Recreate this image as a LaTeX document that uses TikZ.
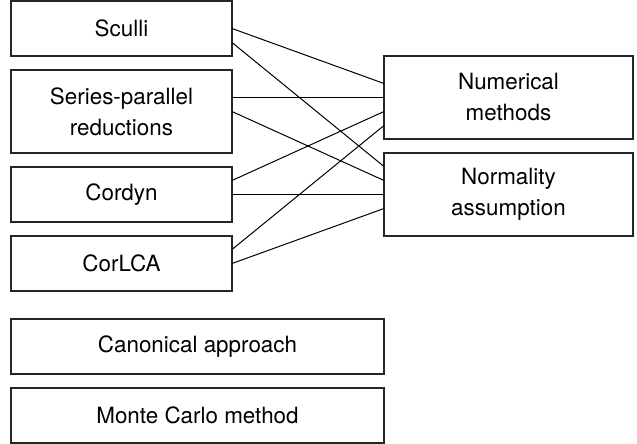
\documentclass[tikz,border=0pt]{standalone}
\usepackage{fontspec}
\setmainfont{TeX Gyre Heros}
\usetikzlibrary{positioning}

\tikzset{
  box/.style={draw=black!85, line width=0.7pt, minimum width=110.5pt, minimum height=27.5pt,
    inner sep=0pt, outer sep=0pt, align=center, font=\fontsize{11.2}{15.5}\selectfont},
  tall/.style={minimum height=41.5pt},
  wide/.style={minimum width=186.5pt},
  side/.style={minimum width=124.5pt},
  link/.style={line width=0.5pt}
}

\begin{document}
\begin{tikzpicture}[node distance=7pt]
    \useasboundingbox (0,0) rectangle (318.5pt,-222pt);

    \node[box, anchor=north west] (sculli) at (5.5pt,-0.5pt) {Sculli};
    \node[box, tall] (series) [below=of sculli] {Series-parallel\\reductions};
    \node[box] (cordyn) [below=of series] {Cordyn};
    \node[box] (corlca) [below=of cordyn] {CorLCA};
    \node[box, wide] (canon) [below=14pt of corlca.south west, anchor=north west] {Canonical approach};
    \node[box, wide] (monte) [below=of canon] {Monte Carlo method};

    \node[box, tall, side, anchor=north west] (numer) at ([xshift=76pt]sculli.south east) {Numerical\\methods};
    \node[box, tall, side] (normal) [below=of numer] {Normality\\assumption};

    \draw[link] (sculli.east) -- ([yshift=7pt]numer.west);
    \draw[link] ([yshift=-7pt]sculli.east) -- ([yshift=14pt]normal.west);
    \draw[link] ([yshift=7pt]series.east) -- (numer.west);
    \draw[link] (series.east) -- ([yshift=7pt]normal.west);
    \draw[link] ([yshift=7pt]cordyn.east) -- ([yshift=-7pt]numer.west);
    \draw[link] (cordyn.east) -- (normal.west);
    \draw[link] ([yshift=7pt]corlca.east) -- ([yshift=-14pt]numer.west);
    \draw[link] (corlca.east) -- ([yshift=-7pt]normal.west);
\end{tikzpicture}
\end{document}
